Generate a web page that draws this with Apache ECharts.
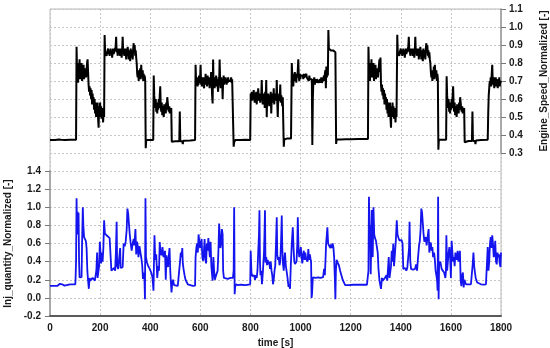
<!DOCTYPE html>
<html><head><meta charset="utf-8">
<script src="https://cdn.jsdelivr.net/npm/echarts@6/dist/echarts.min.js"></script>
<style>html,body{margin:0;padding:0;background:#fff}#c{width:550px;height:348px}</style>
</head><body><div id="c"></div>
<script>
const xTickValues = [0,200,400,600,800,1000,1200,1400,1600,1800];
const speedTicks = [0.3,0.4,0.5,0.6,0.7,0.8,0.9,1.0,1.1];
const injTicks = [-0.2,0.0,0.2,0.4,0.6,0.8,1.0,1.2,1.4];
const xName = 'time [s]';
const speedName = 'Engine_Speed_Normalized [-]';
const injName = 'Inj_quantity_Normalized [-]';

const speedData = [
[0,.372],[20,.372],[35,.375],[45,.373],[60,.372],[80,.373],[104,.374],
[106,.89],[108,.74],[110,.80],[112,.69],[114,.79],[116,.75],[118,.82],[120,.71],[122,.78],[124,.73],[126,.80],[128,.70],[130,.77],[132,.74],[134,.79],[136,.71],[138,.76],[140,.73],[142,.77],[144,.72],[146,.76],[148,.80],[150,.82],[152,.75],[154,.68],[156,.64],[158,.67],[160,.62],[162,.66],[164,.60],[166,.65],[168,.57],[170,.63],[172,.58],[174,.61],[176,.54],[178,.60],[180,.52],[182,.58],[184,.50],[186,.57],[188,.53],[190,.58],[192,.49],[194,.44],[196,.56],[198,.50],[200,.58],[202,.52],[204,.56],[206,.49],[208,.55],[210,.51],[212,.47],[214,.54],[216,.50],
[218,.955],[220,.86],[222,.85],[224,.87],[226,.84],[228,.86],[230,.85],[232,.88],[234,.85],[236,.87],[238,.84],[240,.86],[242,.88],[244,.85],[246,.87],[248,.83],[250,.86],[252,.88],[254,.85],[256,.84],[258,.87],[260,.86],[262,.89],[264,.945],[266,.86],[268,.88],[270,.84],[272,.87],[274,.85],[276,.88],[278,.86],[280,.84],[282,.88],[284,.86],[286,.83],[288,.87],[290,.945],[292,.86],[294,.88],[296,.84],[298,.87],[300,.85],[302,.88],[304,.82],[306,.87],[308,.85],[310,.89],[312,.86],[314,.82],[316,.87],[318,.85],[320,.81],[322,.88],[324,.85],[326,.83],[328,.87],[330,.82],[332,.88],[334,.91],[336,.86],[338,.90],[340,.84],[342,.87],[344,.83],[346,.80],
[348,.74],[350,.72],[352,.76],[354,.70],[356,.75],[358,.73],[360,.77],[362,.71],[364,.79],[366,.74],[368,.72],[370,.76],[372,.70],[374,.74],[376,.71],[378,.73],[380,.70],[382,.327],[384,.372],[395,.372],[412,.372],
[414,.73],[416,.62],[418,.58],[420,.55],[422,.60],[424,.53],[426,.57],[428,.52],[430,.58],[432,.54],[434,.60],[436,.55],[438,.62],[440,.67],[442,.56],[444,.53],[446,.58],[448,.51],[450,.56],[452,.54],[454,.50],[456,.57],[458,.53],[460,.55],[462,.52],[464,.58],[466,.54],[468,.61],[470,.62],[472,.55],[474,.53],[476,.56],[478,.52],[480,.55],[482,.53],[484,.55],
[486,.363],[500,.365],[516,.365],[518,.53],[520,.365],[528,.365],[530,.35],[532,.368],[560,.37],[579,.372],
[581,.79],[583,.70],[585,.68],[587,.72],[589,.67],[591,.70],[593,.68],[595,.73],[597,.69],[599,.71],[601,.79],[603,.68],[605,.71],[607,.67],[609,.72],[611,.69],[613,.70],[615,.66],[617,.72],[619,.68],[621,.74],[623,.69],[625,.71],[627,.67],[629,.73],[631,.70],[633,.68],[635,.72],[637,.66],[639,.71],[641,.69],[643,.75],[645,.70],[647,.62],[649,.575],[651,.82],[653,.68],[655,.72],[657,.66],[659,.71],[661,.69],[663,.73],[665,.67],[667,.71],[669,.70],[671,.64],[673,.72],[675,.68],[677,.82],[679,.70],[681,.66],[683,.72],[685,.69],[687,.71],[689,.60],[691,.70],[693,.73],[695,.68],[697,.71],[699,.69],[701,.72],[703,.70],[705,.68],[707,.71],[709,.69],[711,.72],[713,.70],[715,.71],[717,.69],[719,.71],[721,.70],[723,.72],[725,.69],[727,.71],[729,.70],[731,.70],[733,.335],[735,.36],[740,.372],[760,.372],[780,.373],[799,.372],
[801,.63],[803,.61],[805,.64],[807,.59],[809,.63],[811,.60],[813,.65],[815,.61],[817,.58],[819,.63],[821,.60],[823,.64],[825,.57],[827,.62],[829,.60],[831,.66],[833,.61],[835,.59],[837,.63],[839,.58],[841,.62],[843,.60],[845,.705],[847,.61],[849,.57],[851,.63],[853,.59],[855,.62],[857,.55],[859,.64],[861,.60],[863,.705],[865,.50],[867,.62],[869,.58],[871,.63],[873,.60],[875,.56],[877,.62],[879,.59],[881,.64],[883,.52],[885,.60],[887,.63],[889,.58],[891,.61],[893,.66],[895,.57],[897,.62],[899,.60],[901,.63],[903,.59],[905,.705],[907,.58],[909,.50],[911,.61],[913,.59],[915,.63],[917,.60],[919,.68],[921,.58],[923,.62],[925,.60],[927,.56],[929,.61],[931,.60],[933,.335],[935,.375],[945,.38],[962,.38],
[965,.80],[967,.72],[969,.74],[971,.67],[973,.73],[975,.70],[977,.75],[979,.71],[981,.73],[983,.69],[985,.74],[987,.72],[989,.76],[991,.82],[993,.72],[995,.70],[997,.74],[999,.71],[1001,.73],[1003,.72],[1005,.74],[1007,.72],[1009,.73],[1011,.71],[1013,.74],[1015,.72],[1017,.73],[1019,.71],[1021,.72],[1023,.74],[1025,.72],[1027,.73],[1029,.71],[1031,.72],[1033,.70],[1035,.73],[1037,.71],[1039,.72],[1041,.70],[1043,.72],[1045,.71],[1047,.344],[1049,.60],[1051,.70],[1053,.69],[1055,.72],[1057,.68],[1059,.71],[1061,.70],[1063,.69],[1065,.71],[1067,.70],[1069,.72],[1071,.69],[1073,.70],[1075,.68],[1077,.71],[1079,.69],[1081,.70],[1083,.72],[1085,.69],[1087,.70],[1089,.68],[1091,.71],[1093,.73],[1095,.70],[1097,.74],[1099,.76],[1101,.66],[1103,.78],[1105,.72],[1107,.75],[1109,.73],[1111,.983],[1113,.88],[1115,.87],[1118,.875],[1121,.87],[1124,.868],[1127,.87],[1130,.87],[1133,.865],[1136,.862],[1139,.86],[1141,.85],[1142,.35],[1144,.375],[1160,.375],[1180,.376],[1200,.377],[1230,.378],[1250,.378],[1269,.378],
[1271,.89],[1273,.76],[1275,.80],[1277,.70],[1279,.79],[1281,.75],[1283,.82],[1285,.72],[1287,.78],[1289,.74],[1291,.80],[1293,.70],[1295,.77],[1297,.73],[1299,.79],[1301,.71],[1303,.76],[1305,.73],[1307,.77],[1309,.72],[1311,.76],[1313,.79],[1315,.82],[1317,.75],[1319,.83],[1321,.68],[1323,.64],[1325,.68],[1327,.62],[1329,.66],[1331,.60],[1333,.65],[1335,.57],[1337,.63],[1339,.58],[1341,.61],[1343,.54],[1345,.60],[1347,.52],[1349,.58],[1351,.50],[1353,.57],[1355,.53],[1357,.58],[1359,.49],[1361,.44],[1363,.56],[1365,.50],[1367,.58],[1369,.52],[1371,.56],[1373,.49],[1375,.55],[1377,.51],[1379,.47],[1381,.54],[1383,.50],
[1386,.957],[1388,.86],[1390,.85],[1392,.87],[1394,.84],[1396,.86],[1398,.85],[1400,.88],[1402,.85],[1404,.87],[1406,.84],[1408,.86],[1410,.88],[1412,.85],[1414,.87],[1416,.83],[1418,.86],[1420,.88],[1422,.85],[1424,.84],[1426,.87],[1428,.86],[1430,.89],[1432,.945],[1434,.86],[1436,.88],[1438,.84],[1440,.87],[1442,.85],[1444,.88],[1446,.86],[1448,.84],[1450,.88],[1452,.86],[1454,.83],[1456,.87],[1458,.945],[1460,.86],[1462,.88],[1464,.84],[1466,.87],[1468,.85],[1470,.88],[1472,.82],[1474,.87],[1476,.85],[1478,.89],[1480,.86],[1482,.82],[1484,.87],[1486,.85],[1488,.81],[1490,.88],[1492,.85],[1494,.83],[1496,.87],[1498,.82],[1500,.88],[1502,.91],[1504,.86],[1506,.90],[1508,.84],[1510,.87],[1512,.83],[1514,.86],[1516,.82],[1518,.80],
[1520,.75],[1522,.72],[1524,.76],[1526,.70],[1528,.75],[1530,.73],[1532,.78],[1534,.71],[1536,.79],[1538,.74],[1540,.72],[1542,.76],[1544,.70],[1546,.74],[1548,.71],[1550,.318],[1552,.374],[1565,.374],[1581,.374],
[1583,.726],[1585,.62],[1587,.58],[1589,.55],[1591,.60],[1593,.53],[1595,.57],[1597,.52],[1599,.58],[1601,.54],[1603,.60],[1605,.55],[1607,.62],[1609,.67],[1611,.56],[1613,.53],[1615,.58],[1617,.51],[1619,.56],[1621,.54],[1623,.50],[1625,.57],[1627,.53],[1629,.55],[1631,.52],[1633,.58],[1635,.54],[1637,.61],[1639,.62],[1641,.55],[1643,.53],[1645,.56],[1647,.52],[1649,.55],[1651,.53],[1653,.55],[1655,.36],[1670,.367],[1684,.367],[1686,.53],[1688,.367],[1696,.367],[1698,.35],[1700,.37],[1720,.372],[1747,.374],
[1749,.52],[1751,.62],[1753,.66],[1755,.70],[1757,.68],[1759,.72],[1761,.67],[1763,.74],[1765,.79],[1767,.70],[1769,.68],[1771,.72],[1773,.66],[1775,.70],[1777,.68],[1779,.72],[1781,.67],[1783,.71],[1785,.69],[1787,.66],[1789,.71],[1791,.68],[1793,.72],[1795,.67],[1797,.70],[1800,.69]
];

const injData = [
[0,.133],[30,.133],[34,.15],[40,.155],[48,.15],[50,.133],[58,.135],[62,.148],[80,.148],[101,.15],
[102,.21],[104,.40],[106,1.10],[108,.70],[110,.95],[112,.80],[114,.94],[116,.40],[118,.225],[122,.24],[126,.23],[128,.60],[131,1.00],[133,.80],[136,.67],[140,.66],[143,.63],[146,.55],[149,.30],[152,.19],[155,.10],[158,.22],[161,.19],[164,.21],[167,.18],[170,.22],[173,.20],[176,.24],[179,.19],[182,.21],[185,.30],[188,.50],[190,.22],[193,.20],[196,.35],[199,.62],[202,.615],[204,.38],[207,.50],[210,.40],[213,.55],[216,.855],[219,.71],[222,.70],[226,.72],[230,.68],[234,.70],[238,.66],[242,.65],[245,.30],[248,.32],[252,.31],[256,.33],[260,.30],[263,.50],[266,.84],[268,.35],[272,.32],[276,.31],[280,.55],[282,.33],[286,.32],[290,.34],[294,.60],[298,.57],[302,.62],[306,.75],[309,.985],[312,.93],[315,.93],[318,.71],[322,.60],[326,.52],[330,.60],[334,.65],[337,.58],[341,.76],[344,.48],[347,.62],[350,.58],[353,.45],[357,.57],[361,.56],[365,.43],[368,.36],[371,.21],[374,.28],[377,.20],[379,-0.015],[381,1.10],[383,.45],[387,.39],[392,.35],[398,.32],[404,.28],[409,.225],[413,.08],[415,.40],[417,.69],[420,.42],[424,.48],[428,.22],[432,.35],[435,.30],[438,.615],[441,.50],[445,.47],[449,.56],[453,.45],[457,.48],[459,.52],[462,.20],[465,.47],[468,.45],[471,.34],[474,.46],[477,.55],[480,.30],[482,.19],[485,.06],[488,.17],[491,.20],[495,.14],[500,.133],[510,.133],[517,.135],[519,.40],[522,.50],[525,.45],[528,.55],[530,.38],[533,.32],[537,.25],[541,.20],[545,.19],[550,.15],[556,.133],[570,.133],[579,.135],
[581,.45],[584,.55],[587,.60],[590,.50],[593,.70],[596,.62],[599,.55],[602,.60],[605,.65],[608,.45],[611,.41],[614,.50],[617,.65],[620,.42],[623,.38],[626,.60],[629,.52],[632,.66],[635,.55],[638,.45],[641,.62],[644,.35],[647,.25],[649,.19],[652,.45],[655,.30],[658,.20],[662,.24],[665,.22],[669,.30],[672,.50],[675,.82],[678,.84],[680,.55],[683,.60],[686,.76],[689,.70],[691,.30],[694,.22],[700,.21],[710,.21],[720,.22],[725,.21],[730,.22],[733,.30],[735,1.00],[737,.04],[739,.12],[742,.15],[750,.14],[760,.145],[780,.14],[799,.15],
[801,.52],[804,.28],[807,.24],[811,.22],[815,.25],[818,.20],[822,.25],[825,.22],[828,.30],[831,.50],[834,.70],[836,.967],[838,.40],[840,.25],[843,.30],[846,.15],[850,.30],[854,.50],[856,.70],[858,.967],[860,.39],[863,.45],[866,.36],[869,.42],[872,.37],[875,.40],[878,.32],[881,.40],[884,.30],[887,.25],[890,.15],[893,.20],[896,.30],[899,.35],[902,.60],[905,.89],[907,.48],[910,.42],[913,.45],[916,.36],[919,.40],[922,.60],[925,.91],[927,.55],[930,.37],[933,.30],[936,.44],[938,.50],[941,.36],[944,.30],[948,.22],[952,.12],[955,.15],[958,.10],[961,.35],[965,.60],[969,.78],[972,.55],[975,.40],[978,.375],[981,.38],[984,.40],[987,.60],[989,.89],[992,.52],[995,.45],[998,.50],[1001,.56],[1004,.45],[1007,.38],[1010,.48],[1013,.52],[1016,.42],[1019,.50],[1022,.43],[1025,.44],[1028,.40],[1031,.54],[1034,.42],[1037,.48],[1040,.43],[1042,.40],[1044,0.0],[1046,.05],[1049,.225],[1055,.23],[1060,.22],[1065,.24],[1070,.225],[1075,.23],[1080,.22],[1085,.24],[1090,.23],[1094,.32],[1097,.25],[1100,.45],[1102,.60],[1105,.70],[1107,.78],[1110,.60],[1113,.58],[1116,.62],[1119,.55],[1122,.59],[1125,.55],[1128,.60],[1131,.56],[1134,.45],[1137,.20],[1139,-0.015],[1141,.30],[1144,.42],[1148,.39],[1153,.36],[1158,.30],[1163,.25],[1168,.20],[1173,.17],[1178,.14],[1190,.14],[1210,.145],[1240,.145],[1265,.145],
[1271,.30],[1273,1.115],[1276,.60],[1278,.80],[1280,.26],[1282,.60],[1284,.97],[1286,.50],[1288,.45],[1291,1.00],[1294,.70],[1297,.66],[1301,.63],[1305,.63],[1308,.50],[1311,.32],[1315,.19],[1318,.19],[1321,.10],[1325,.22],[1328,.19],[1331,.21],[1334,.18],[1337,.22],[1340,.20],[1343,.25],[1346,.19],[1349,.21],[1352,.45],[1355,.22],[1358,.20],[1361,.35],[1364,.52],[1367,.40],[1370,.60],[1373,.35],[1377,.50],[1380,.62],[1384,.855],[1387,.70],[1391,.66],[1395,.63],[1399,.63],[1403,.64],[1407,.60],[1410,.32],[1414,.31],[1418,.33],[1422,.30],[1426,.33],[1430,.31],[1433,.55],[1435,.84],[1438,.40],[1441,.32],[1445,.30],[1449,.31],[1453,.29],[1457,.32],[1461,.37],[1465,.30],[1469,.45],[1473,.58],[1476,.63],[1479,.75],[1482,.985],[1485,.94],[1488,.92],[1491,.70],[1494,.62],[1497,.60],[1500,.67],[1503,.58],[1507,.60],[1511,.76],[1514,.50],[1517,.58],[1520,.61],[1523,.52],[1526,.56],[1529,.45],[1533,.50],[1536,.42],[1539,.30],[1542,.25],[1545,.19],[1547,.08],[1549,1.115],[1551,-0.015],[1553,.37],[1558,.40],[1563,.32],[1568,.30],[1573,.28],[1578,.22],[1580,.28],[1582,.69],[1585,.30],[1588,.40],[1591,.50],[1594,.56],[1597,.45],[1600,.22],[1603,.63],[1606,.50],[1609,.40],[1612,.45],[1615,.35],[1618,.50],[1621,.45],[1624,.42],[1627,.52],[1630,.40],[1633,.45],[1636,.52],[1639,.19],[1642,.13],[1645,.25],[1648,.28],[1651,.115],[1654,.20],[1657,.18],[1660,.15],[1665,.16],[1670,.15],[1675,.14],[1680,.15],[1684,.16],[1687,.37],[1690,.50],[1693,.35],[1696,.28],[1699,.22],[1702,.20],[1705,.17],[1710,.15],[1720,.15],[1730,.145],[1740,.15],[1745,.15],
[1747,.56],[1750,.30],[1753,.40],[1756,.60],[1759,.67],[1762,.55],[1765,.69],[1768,.60],[1771,.45],[1774,.50],[1777,.63],[1780,.40],[1783,.37],[1786,.50],[1789,.45],[1792,.48],[1795,.38],[1798,.34],[1800,.50]
];

const FONT = 'Liberation Sans, Arial, sans-serif';
const txt = {color:'#1a1a1a', fontWeight:'bold', fontSize:10, fontFamily:FONT};
const dashed = {show:true, lineStyle:{color:'#c6c6c6', width:1, type:[2,2]}};
const L = 50, R = 49;

const chart = echarts.init(document.getElementById('c'), null, {renderer:'canvas'});
chart.setOption({
  animation:false,
  backgroundColor:'#fff',
  grid:[
    {left:L, right:R, top:9, bottom:32, show:true, borderColor:'#b8b8b8', borderWidth:1, outerBoundsMode:'none'},
    {left:L, right:R, top:9, height:144, outerBoundsMode:'none'},
    {left:L, right:R, top:171, height:145, outerBoundsMode:'none'}
  ],
  xAxis:[
    {gridIndex:0, type:'value', min:xTickValues[0], max:xTickValues[xTickValues.length-1], interval:200,
     axisLine:{show:true, onZero:false, lineStyle:{color:'#5a5a5a', width:2}},
     axisTick:{show:false}, splitLine:dashed,
     axisLabel:Object.assign({margin:7, formatter:v=>String(v)}, txt),
     name:xName, nameLocation:'middle', nameGap:20, nameTextStyle:txt},
    {gridIndex:1, type:'value', min:0, max:1800, show:false},
    {gridIndex:2, type:'value', min:0, max:1800, show:false}
  ],
  yAxis:[
    {gridIndex:0, type:'value', min:0, max:1, show:false, splitLine:{show:false}},
    {gridIndex:1, type:'value', position:'right', min:speedTicks[0], max:speedTicks[speedTicks.length-1], interval:0.1,
     axisLine:{show:true, onZero:false, lineStyle:{color:'#9a9a9a', width:1.5}},
     axisTick:{show:true, length:5, lineStyle:{color:'#777'}},
     splitLine:dashed,
     axisLabel:Object.assign({margin:8, formatter:v=>v.toFixed(1)}, txt),
     name:speedName, nameLocation:'middle', nameGap:38, nameRotate:90, nameTextStyle:txt},
    {gridIndex:2, type:'value', position:'left', min:injTicks[0], max:injTicks[injTicks.length-1], interval:0.2,
     axisLine:{show:true, onZero:false, lineStyle:{color:'#9a9a9a', width:1.5}},
     axisTick:{show:true, length:5, lineStyle:{color:'#777'}},
     splitLine:dashed,
     axisLabel:Object.assign({margin:9, formatter:v=>v.toFixed(1)}, txt),
     name:injName, nameLocation:'middle', nameGap:37, nameRotate:90, nameTextStyle:txt}
  ],
  series:[
    {type:'line', xAxisIndex:1, yAxisIndex:1, data:speedData, showSymbol:false, symbol:'none',
     lineStyle:{color:'#000', width:2}, z:3},
    {type:'line', xAxisIndex:2, yAxisIndex:2, data:injData, showSymbol:false, symbol:'none',
     lineStyle:{color:'#1414ee', width:1.8}, z:3}
  ]
});
</script></body></html>
